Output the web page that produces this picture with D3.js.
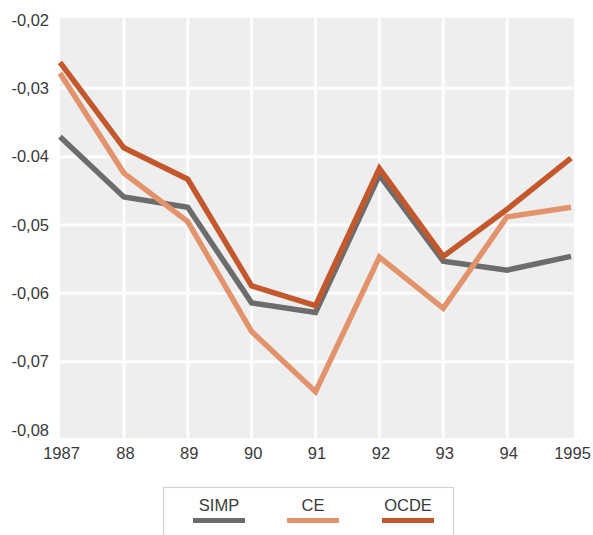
<!DOCTYPE html>
<html><head><meta charset="utf-8">
<script src="https://cdn.jsdelivr.net/npm/d3@7"></script>
<style>
body{margin:0;background:#fff;}
svg{display:block;font-family:"Liberation Sans",Arial,sans-serif;}
</style></head>
<body><svg id="c" width="593" height="535"></svg>
<script>
const years = [1987, 1988, 1989, 1990, 1991, 1992, 1993, 1994, 1995];
const yearLabels = ["1987", "88", "89", "90", "91", "92", "93", "94", "1995"];
const simp = [-0.0371, -0.0459, -0.0474, -0.0614, -0.0628, -0.0427, -0.0553, -0.0566, -0.0546];
const ce   = [-0.0278, -0.0424, -0.0495, -0.0656, -0.0744, -0.0547, -0.0622, -0.0488, -0.0474];
const ocde = [-0.0262, -0.0387, -0.0433, -0.0589, -0.0618, -0.0417, -0.0546, -0.0477, -0.0402];
const yTicks = [-0.02, -0.03, -0.04, -0.05, -0.06, -0.07, -0.08];
const yTickLabels = ["-0,02", "-0,03", "-0.04", "-0,05", "-0,06", "-0,07", "-0,08"];
const seriesNames = ["SIMP", "CE", "OCDE"];
const seriesColors = ["#6c6c6c", "#e3936c", "#c2582b"];

const svg = d3.select("#c");
const x = d3.scaleLinear().domain([1987, 1995]).range([60, 571]);
const y = d3.scaleLinear().domain([-0.08, -0.02]).range([430, 20]);

// plot background
svg.append("rect").attr("x", 60).attr("y", 18).attr("width", 514).attr("height", 420)
  .attr("fill", "#eeeeee");
// gridlines
svg.append("g").selectAll("line").data(years.slice(1, -1)).join("line")
  .attr("x1", d => x(d)).attr("x2", d => x(d)).attr("y1", 18).attr("y2", 438)
  .attr("stroke", "#fdfdfd").attr("stroke-width", 3);
svg.append("g").selectAll("line").data(yTicks.slice(1, -1)).join("line")
  .attr("x1", 60).attr("x2", 574).attr("y1", d => y(d)).attr("y2", d => y(d))
  .attr("stroke", "#fdfdfd").attr("stroke-width", 3);

// axes (text only)
const yAxis = d3.axisLeft(y).tickValues(yTicks).tickSize(0).tickPadding(0)
  .tickFormat((d, i) => yTickLabels[i]);
const gy = svg.append("g").attr("transform", "translate(49,0)").call(yAxis);
gy.select(".domain").remove();
gy.selectAll("text").attr("font-size", 16.5).attr("fill", "#3a3a3a")
  .attr("font-family", "Liberation Sans, Arial, sans-serif");

const xAxis = d3.axisBottom(x).tickValues(years).tickSize(0).tickPadding(0)
  .tickFormat((d, i) => yearLabels[i]);
const gx = svg.append("g").attr("transform", "translate(1,447)").call(xAxis);
gx.select(".domain").remove();
gx.selectAll("text").attr("font-size", 16.5).attr("fill", "#3a3a3a")
  .attr("font-family", "Liberation Sans, Arial, sans-serif");

// lines
const line = d3.line().x((d, i) => x(years[i])).y(d => y(d));
[simp, ce, ocde].forEach((s, k) => {
  svg.append("path").datum(s).attr("d", line).attr("fill", "none")
    .attr("stroke", seriesColors[k]).attr("stroke-width", 5.5)
    .attr("stroke-linejoin", "miter");
});

// legend
svg.append("rect").attr("x", 163.5).attr("y", 487.5).attr("width", 290).attr("height", 60)
  .attr("fill", "#fff").attr("stroke", "#d2d2d2").attr("stroke-width", 1.2);
const legX = [219, 313, 408];
const lg = svg.append("g").selectAll("g").data(seriesNames).join("g")
  .attr("transform", (d, i) => `translate(${legX[i]},0)`);
lg.append("text").attr("y", 511).attr("text-anchor", "middle").attr("font-size", 16.5)
  .attr("fill", "#3a3a3a").text(d => d);
lg.append("rect").attr("x", -26).attr("y", 518).attr("width", 52).attr("height", 5)
  .attr("fill", (d, i) => seriesColors[i]);
</script></body></html>
